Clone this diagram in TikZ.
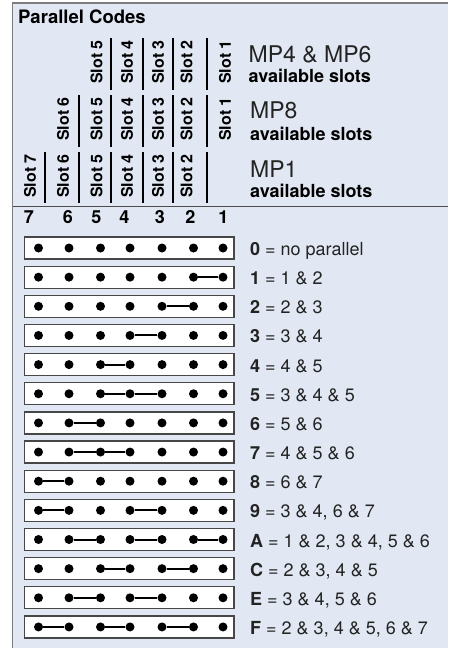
\documentclass[tikz,border=0pt]{standalone}
\usepackage{fontspec}
\setmainfont{TeX Gyre Heros}
\definecolor{bgblue}{RGB}{225,232,243}
\definecolor{framegray}{RGB}{125,125,125}
\definecolor{txt}{RGB}{35,35,35}
\tikzset{
  title/.style={anchor=base west, inner sep=0pt, font=\fontsize{18.5}{18.5}\selectfont\bfseries},
  slotlab/.style={rotate=90, inner sep=0pt, anchor=center, font=\fontsize{16}{16}\selectfont\bfseries},
  slotbar/.style={line width=2.2pt, black},
  numlab/.style={inner sep=0pt, anchor=center, font=\fontsize{18}{18}\selectfont\bfseries},
  rowbox/.style={draw=black!72, line width=1.2pt, fill=white, minimum width=209.5pt, minimum height=22pt, inner sep=0pt},
  dot/.style={circle, fill=black, minimum size=9pt, inner sep=0pt},
  link/.style={line width=2pt, black},
  codelab/.style={anchor=base west, inner sep=0pt, text=txt, font=\fontsize{18}{18}\selectfont},
  mplab/.style={anchor=base west, inner sep=0pt, text=txt, font=\fontsize{23}{23}\selectfont},
  availlab/.style={anchor=base west, inner sep=0pt, font=\fontsize{18}{18}\selectfont\bfseries},
}
\begin{document}
\begin{tikzpicture}[x=1pt,y=-1pt]
\useasboundingbox (0,0) rectangle (448,648);
% background and frame
\fill[bgblue] (12.5,3) rectangle (448,648);
\draw[framegray, line width=1.2pt] (12.5,648) -- (12.5,3) -- (448,3);
\node[title] (title) at (18,23) {Parallel Codes};
% slot label rows
\foreach \s/\x in {5/96.5,4/127,3/158,2/186.5,1/225}
  \node[slotlab] (ra\s) at (\x,62) {Slot \s};
\foreach \s/\x in {6/63,5/96.5,4/127,3/158,2/186.5,1/225}
  \node[slotlab] (rb\s) at (\x,119) {Slot \s};
\foreach \s/\x in {7/30,6/63,5/96.5,4/127,3/158,2/186.5}
  \node[slotlab] (rc\s) at (\x,176) {Slot \s};
\foreach \x in {111,143,173,207}
  \draw[slotbar] (\x,38) -- (\x,90);
\foreach \x in {79,111,143,173,207}
  \draw[slotbar] (\x,95) -- (\x,147);
\foreach \x in {45,79,111,143,173,207}
  \draw[slotbar] (\x,152) -- (\x,203);
% MP labels
\node[mplab] (mpa) at (248.5,62) {MP4 \& MP6};
\node[availlab] (ava) at (248.5,82) {available slots};
\node[mplab] (mpb) at (250,118) {MP8};
\node[availlab] (avb) at (250,140) {available slots};
\node[mplab] (mpc) at (250,177) {MP1};
\node[availlab] (avc) at (250,197) {available slots};
% divider
\draw[black!70, line width=1.5pt] (12.5,206.5) -- (448,206.5);
% column numbers
\foreach \s/\x in {7/29,6/68,5/96.5,4/124.5,3/160,2/190.5,1/223.5}
  \node[numlab] (n\s) at (\x,217) {\s};
% rows
\foreach \i/\c/\t in {0/0/{no parallel},1/1/{1 \& 2},2/2/{2 \& 3},3/3/{3 \& 4},4/4/{4 \& 5},5/5/{3 \& 4 \& 5},6/6/{5 \& 6},7/7/{4 \& 5 \& 6},8/8/{6 \& 7},9/9/{3 \& 4, 6 \& 7},10/A/{1 \& 2, 3 \& 4, 5 \& 6},11/C/{2 \& 3, 4 \& 5},12/E/{3 \& 4, 5 \& 6},13/F/{2 \& 3, 4 \& 5, 6 \& 7}}{
  \pgfmathsetmacro{\yy}{248+29.15*\i}
  \node[rowbox] (box\i) at (129.25,\yy) {};
  \foreach \s/\x in {7/38.5,6/69,5/100.5,4/130,3/162,2/193.5,1/223}
    \node[dot] (d\i-\s) at (\x,\yy) {};
  \node[codelab] (lab\i) at (250,\yy+7.5) {\textbf{\c} = \t};
}
% connectors
\draw[link] (d1-1) -- (d1-2);
\draw[link] (d2-2) -- (d2-3);
\draw[link] (d3-3) -- (d3-4);
\draw[link] (d4-4) -- (d4-5);
\draw[link] (d5-3) -- (d5-4) -- (d5-5);
\draw[link] (d6-5) -- (d6-6);
\draw[link] (d7-4) -- (d7-5) -- (d7-6);
\draw[link] (d8-6) -- (d8-7);
\draw[link] (d9-3) -- (d9-4);
\draw[link] (d9-6) -- (d9-7);
\draw[link] (d10-1) -- (d10-2);
\draw[link] (d10-3) -- (d10-4);
\draw[link] (d10-5) -- (d10-6);
\draw[link] (d11-2) -- (d11-3);
\draw[link] (d11-4) -- (d11-5);
\draw[link] (d12-3) -- (d12-4);
\draw[link] (d12-5) -- (d12-6);
\draw[link] (d13-2) -- (d13-3);
\draw[link] (d13-4) -- (d13-5);
\draw[link] (d13-6) -- (d13-7);
\end{tikzpicture}
\end{document}
